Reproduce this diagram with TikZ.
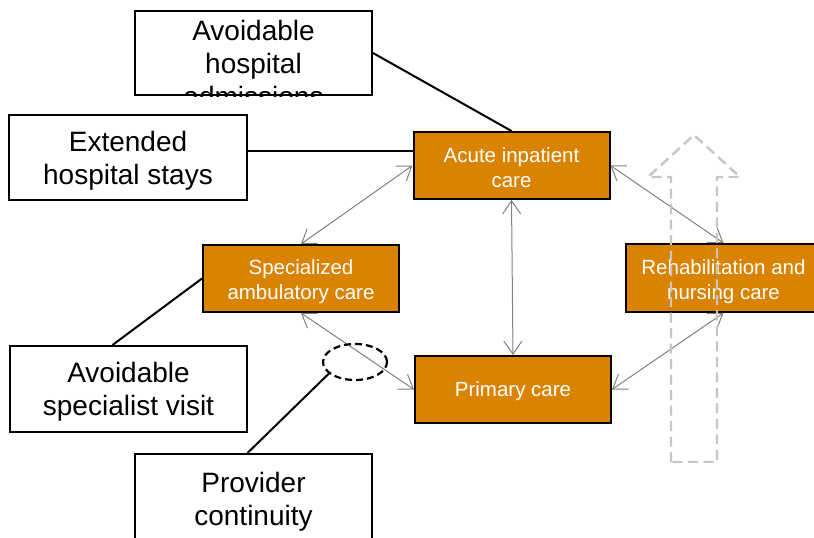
\documentclass[tikz,border=0pt]{standalone}
\usepackage{fontspec}
\setmainfont{Liberation Sans}
\usetikzlibrary{arrows.meta,shapes.geometric}
\definecolor{carecol}{RGB}{217,131,0}
\definecolor{ghost}{RGB}{198,198,198}
\definecolor{linkgray}{RGB}{128,128,128}
\tikzset{
  wbox/.style={draw=black, line width=2pt, fill=white, inner sep=0pt,
    minimum width=237pt},
  obox/.style={draw=black, line width=2pt, fill=carecol, inner sep=0pt,
    minimum width=196pt, minimum height=67pt},
  otext/.style={inner sep=0pt, align=center, text=white,
    font=\fontsize{20.5}{25}\selectfont},
  wtext/.style={inner sep=0pt, align=center, text=black,
    font=\fontsize{28}{33}\selectfont},
  link/.style={draw=linkgray, line width=1pt,
    {Straight Barb[length=13pt,width=18pt]}-{Straight Barb[length=13pt,width=18pt]}},
  tie/.style={draw=black, line width=2pt},
  ring/.style={ellipse, draw=black, line width=2.2pt, dash pattern=on 7pt off 4pt,
    minimum width=64pt, minimum height=36pt, inner sep=0pt},
  ghostarrow/.style={draw=ghost, line width=2.4pt, dash pattern=on 10pt off 5.5pt}
}
\begin{document}
\begin{tikzpicture}[x=1pt,y=-1pt]
\clip (0,0) rectangle (814,538);
\useasboundingbox (0,0) rectangle (814,538);

% orange care nodes
\node[obox] (acute) at (511.5,165.5) {};
\node[otext, yshift=-2pt] (acutet) at (acute) {Acute inpatient\\care};
\node[obox] (spec) at (301,278.5) {};
\node[otext, yshift=-3pt] (spect) at (spec) {Specialized\\ambulatory care};
\node[obox] (prim) at (513,389.5) {};
\node[otext, yshift=-2pt] (primt) at (prim) {Primary care};
\node[obox, minimum width=195pt, minimum height=68pt] (rehab) at (723.5,278) {};
\node[otext, yshift=-3.5pt] (rehabt) at (rehab) {Rehabilitation and\\nursing care};

% grey two-way links
\draw[link] (acute.west) -- (spec.north);
\draw[link] (acute.south) -- (prim.north);
\draw[link] (acute.east) -- (rehab.north);
\draw[link] (spec.south) -- (prim.west);
\draw[link] (prim.east) -- (rehab.south);

% dashed ellipse
\node[ring] (ell) at (355,362) {};

% white boxes
\node[wbox, minimum height=84pt] (adm) at (253.5,53) {};
\begin{scope}
  \clip (adm.south west) rectangle (adm.north east);
  \node[wtext, anchor=north] (admtext) at (253.5,20) {Avoidable\\hospital\\admissions};
\end{scope}
\node[wbox, minimum width=238pt, minimum height=85pt] (ext) at (128,157.5) {};
\node[wtext, yshift=-3pt] (extt) at (ext) {Extended\\hospital stays};
\node[wbox, minimum height=86pt] (spv) at (128.5,389) {};
\node[wtext, yshift=-3pt] (spvt) at (spv) {Avoidable\\specialist visit};
\node[wbox, minimum height=92pt] (prov) at (253.5,500) {};
\node[wtext, anchor=north] (provtext) at (253.5,472) {Provider\\continuity};

% black ties
\draw[tie] (adm.east) -- (acute.north);
\draw[tie] ([yshift=7pt]ext.east) -- ([yshift=7pt]ext.east -| acute.west);
\draw[tie] ([xshift=-16pt]spv.north) -- (spec.west);
\draw[tie] ([xshift=-6pt]prov.north) -- (ell.204);

% ghost upward block arrow
\draw[ghostarrow] (671,462) -- (671,177) -- (648,177) -- (694,135) -- (740,177) -- (717,177) -- (717,462) -- cycle;
\end{tikzpicture}
\end{document}
